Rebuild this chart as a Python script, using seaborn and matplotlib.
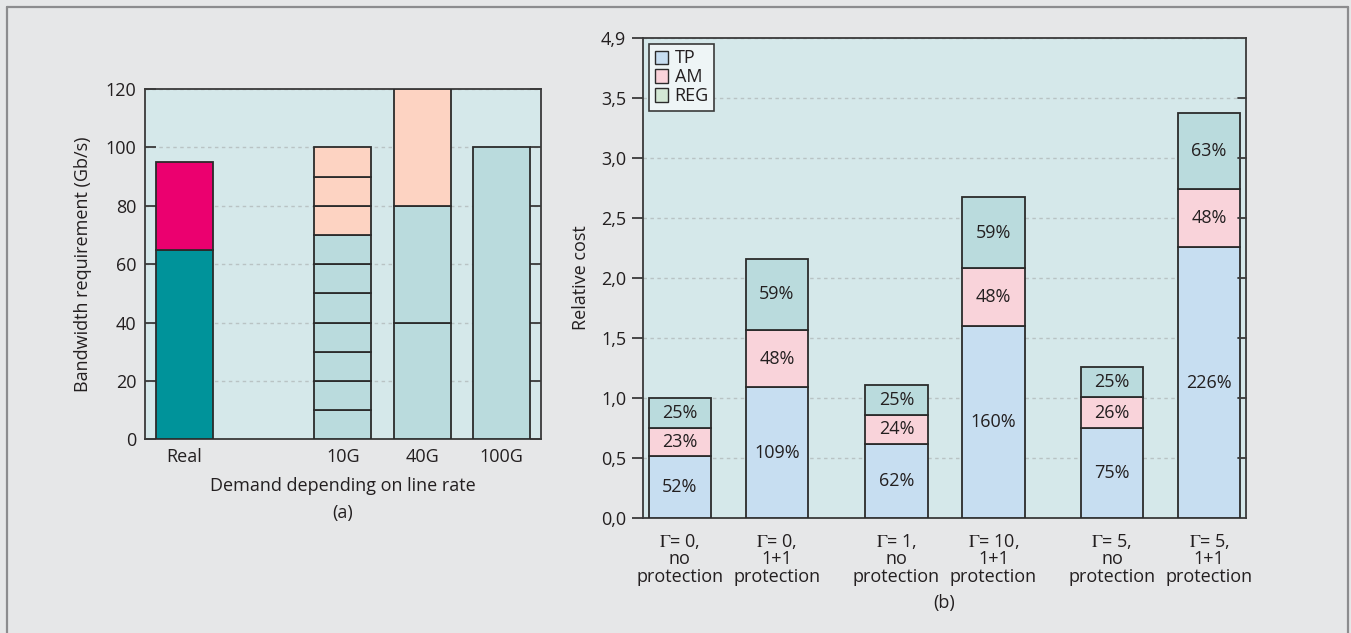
import matplotlib
matplotlib.use("Agg")
import matplotlib.pyplot as plt
import matplotlib.patches as mpatches
from matplotlib.lines import Line2D
import seaborn as sns
import numpy as np

# ---------------- data ----------------
# (a) bandwidth requirement
a_categories = ["Real", "10G", "40G", "100G"]
real_working = 65
real_protection = 30
line_rates = [10, 40, 100]          # Gb/s per channel
working_channels = [7, 2, 1]        # channels carrying demand
extra_channels = [3, 1, 0]          # over-provisioned channels
a_yticks = [0, 20, 40, 60, 80, 100, 120]

# (b) relative cost
b_categories = ["$\\mathrm{\\Gamma}$= 0,\nno\nprotection",
                "$\\mathrm{\\Gamma}$= 0,\n1+1\nprotection",
                "$\\mathrm{\\Gamma}$= 1,\nno\nprotection",
                "$\\mathrm{\\Gamma}$= 10,\n1+1\nprotection",
                "$\\mathrm{\\Gamma}$= 5,\nno\nprotection",
                "$\\mathrm{\\Gamma}$= 5,\n1+1\nprotection"]
tp_cost = [0.52, 1.09, 0.62, 1.60, 0.75, 2.26]
am_cost = [0.23, 0.48, 0.24, 0.48, 0.26, 0.48]
reg_cost = [0.25, 0.59, 0.25, 0.59, 0.25, 0.63]
b_ytick_vals = [0.0, 0.5, 1.0, 1.5, 2.0, 2.5, 3.0, 3.5, 4.0]
b_ytick_labels = ["0,0", "0,5", "1,0", "1,5", "2,0", "2,5", "3,0", "3,5", "4,9"]

# ---------------- style ----------------
sns.set_style("ticks")
plt.rcParams["font.family"] = ["Open Sans", "DejaVu Sans"]
plt.rcParams["mathtext.fontset"] = "stix"

BG = "#E6E7E8"
AXBG = "#D5E8EA"
TEAL = "#00939A"
MAGENTA = "#EB006F"
LTEAL = "#BADBDD"
PEACH = "#FDD3C2"
TPC = "#C7DEF1"
AMC = "#F9D3DA"
REGL = "#D3E8D5"
EDGE = "#2b2b2b"
SPINE = "#3a3a3a"
TXT = "#231f20"
FS = 13

fig = plt.figure(figsize=(13.51, 6.33), dpi=100, facecolor=BG)
W, H = 1351, 633

def style_axes(ax):
    ax.set_facecolor(AXBG)
    for s in ax.spines.values():
        s.set_visible(True)
        s.set_color(SPINE)
        s.set_linewidth(1.3)
    ax.set_axisbelow(True)
    ax.yaxis.grid(True, color="#b9c3c4", linestyle=(0, (2.5, 2.5)), linewidth=1.0)
    ax.xaxis.grid(False)

# ---------------- (a) ----------------
axa = fig.add_axes([144.6 / W, 1 - 439.3 / H, (541 - 144.6) / W, (439.3 - 89) / H])
style_axes(axa)
pos_a = [0, 2, 3, 4]
bw = 0.72
bar_kw = dict(width=bw, edgecolor=EDGE, linewidth=1.3, zorder=3)
axa.bar(pos_a[0], real_working, color=TEAL, **bar_kw)
axa.bar(pos_a[0], real_protection, bottom=real_working, color=MAGENTA, **bar_kw)
for i, (rate, nw, ne) in enumerate(zip(line_rates, working_channels, extra_channels)):
    x = pos_a[i + 1]
    for k in range(nw):
        axa.bar(x, rate, bottom=k * rate, color=LTEAL, **bar_kw)
    for k in range(ne):
        axa.bar(x, rate, bottom=(nw + k) * rate, color=PEACH, **bar_kw)

axa.set_xlim(-0.5, 4.5)
axa.set_ylim(0, 120)
axa.set_yticks(a_yticks)
axa.set_xticks(pos_a)
axa.set_xticklabels(a_categories)
axa.tick_params(axis="y", direction="in", length=8, width=1.3, color=SPINE,
                labelsize=FS, labelcolor=TXT, right=True, left=True, pad=6)
axa.tick_params(axis="x", length=0, labelsize=FS, labelcolor=TXT, pad=6)
axa.set_ylabel("Bandwidth requirement (Gb/s)", fontsize=FS, color=TXT, labelpad=10)
axa.set_xlabel("Demand depending on line rate", fontsize=FS, color=TXT, labelpad=8)
fig.text(342.8 / W, 1 - 513 / H, "(a)", ha="center", va="center", fontsize=FS, color=TXT)

# ---------------- (b) ----------------
axb = fig.add_axes([643 / W, 1 - 518.3 / H, (1246 - 643) / W, (518.3 - 37.7) / H])
style_axes(axb)
pos_b = [0, 1, 2.23, 3.23, 4.45, 5.45]
bwb = 0.64
kw_b = dict(width=bwb, edgecolor=EDGE, linewidth=1.3, zorder=3)
tp = np.array(tp_cost); am = np.array(am_cost); rg = np.array(reg_cost)
axb.bar(pos_b, tp, color=TPC, **kw_b)
axb.bar(pos_b, am, bottom=tp, color=AMC, **kw_b)
axb.bar(pos_b, rg, bottom=tp + am, color=LTEAL, **kw_b)
for x, a1, a2, a3 in zip(pos_b, tp, am, rg):
    for bottom, h in ((0, a1), (a1, a2), (a1 + a2, a3)):
        axb.text(x, bottom + h / 2, f"{round(h * 100):d}%", ha="center", va="center",
                 fontsize=FS, color=TXT, zorder=4)

axb.set_xlim(-0.38, 5.83)
axb.set_ylim(0, 4.0)
axb.set_yticks(b_ytick_vals)
axb.set_yticklabels(b_ytick_labels)
axb.set_xticks(pos_b)
axb.set_xticklabels(b_categories, linespacing=0.95)
axb.tick_params(axis="y", which="both", direction="out", length=8, width=1.3, color=SPINE,
                labelsize=FS, labelcolor=TXT, left=True, right=False, pad=4)
axb.tick_params(axis="x", length=0, labelsize=FS, labelcolor=TXT, pad=10)
# inner ticks on the right side
for v in b_ytick_vals[1:-1]:
    axb.plot([1 - 8 / 603, 1], [v, v], transform=axb.get_yaxis_transform(),
             color=SPINE, lw=1.3, zorder=5, clip_on=False)
axb.set_ylabel("Relative cost", fontsize=FS, color=TXT, labelpad=8)
fig.text(944.5 / W, 1 - 603 / H, "(b)", ha="center", va="center", fontsize=FS, color=TXT)

handles = [mpatches.Patch(facecolor=TPC, edgecolor=EDGE, linewidth=1.0, label="TP"),
           mpatches.Patch(facecolor=AMC, edgecolor=EDGE, linewidth=1.0, label="AM"),
           mpatches.Patch(facecolor=REGL, edgecolor=EDGE, linewidth=1.0, label="REG")]
leg = axb.legend(handles=handles, loc="upper left", bbox_to_anchor=(0.0, 1.0),
                 borderaxespad=0.35, fancybox=False, framealpha=1, facecolor="#EEF5F6",
                 edgecolor=SPINE, fontsize=FS, handlelength=0.75, handleheight=0.75,
                 handletextpad=0.35, labelspacing=0.05, borderpad=0.3)
leg.get_frame().set_linewidth(1.2)
for t in leg.get_texts():
    t.set_color(TXT)

# ---------------- outer frame ----------------
fc = "#8C8C8E"
fig.add_artist(Line2D([6.5 / W, 6.5 / W], [0, 1 - 6.5 / H], transform=fig.transFigure, color=fc, lw=1.6))
fig.add_artist(Line2D([6.5 / W, 1347.5 / W], [1 - 6.5 / H, 1 - 6.5 / H], transform=fig.transFigure, color=fc, lw=1.6))
fig.add_artist(Line2D([1347.5 / W, 1347.5 / W], [0, 1 - 6.5 / H], transform=fig.transFigure, color=fc, lw=1.6))

fig.savefig("out.png", dpi=100, facecolor=BG)
